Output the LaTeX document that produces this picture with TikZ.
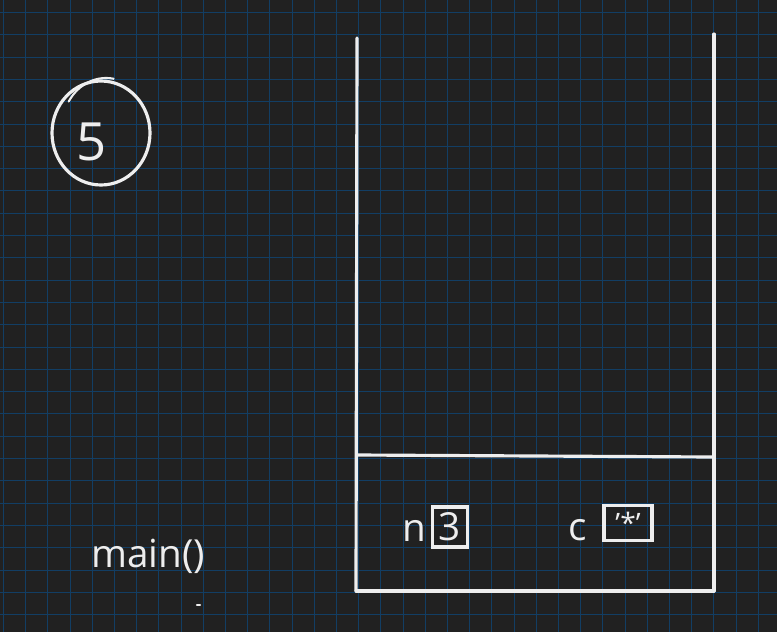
\documentclass[tikz,border=0pt]{standalone}
\usepackage{fontspec}
\setmainfont{Open Sans}
\definecolor{board}{RGB}{33,33,33}
\definecolor{gridblue}{RGB}{18,62,100}
\definecolor{chalk}{RGB}{238,238,238}
\begin{document}
\begin{tikzpicture}[x=0.02cm, y=-0.02cm, font=\fontsize{22}{26}\selectfont]
    % Styles
    \tikzstyle{pen}=[chalk, line width=1.8pt, line cap=round, line join=round]
    \tikzstyle{hand text}=[text=chalk, inner sep=0pt]
    \tikzstyle{value box}=[draw=chalk, line width=1.8pt, inner sep=0pt, text=chalk]

    % --- Background and grid ---
    \fill[board] (0,0) rectangle (777,632);
    \useasboundingbox (0,0) rectangle (777,632);
    \foreach \i in {0,...,34}
        \draw[gridblue, line width=0.02cm] (3.5+22.2*\i,0) -- (3.5+22.2*\i,632);
    \foreach \j in {0,...,27}
        \draw[gridblue, line width=0.02cm] (0,12.5+22.3*\j) -- (777,12.5+22.3*\j);

    % --- Step number ---
    \node[hand text, font=\fontsize{30}{34}\selectfont] (step_no) at (92,142) {5};
    \draw[pen] (101,133) ellipse (49 and 52);
    \draw[pen, line width=1.2pt] (106,128) ++(-148:44 and 50) arc (-148:-80:44 and 50);

    % --- Stack frame outline ---
    \coordinate (stack_tl) at (357,38);
    \coordinate (stack_bl) at (356,591);
    \coordinate (stack_tr) at (714,34);
    \coordinate (stack_br) at (714,591);
    \coordinate (frame_l) at (358,455);
    \coordinate (frame_r) at (712,457);

    \draw[pen] (stack_tl) -- (stack_bl);
    \draw[pen] (stack_tr) -- (stack_br);
    \draw[pen] (stack_bl) -- (stack_br);
    \draw[pen] (frame_l) -- (frame_r);

    % --- Frame of main() ---
    \node[hand text] (main_lbl) at (148,556) {main()};
    \node[hand text] (var_n) at (414,531) {n};
    \node[value box, minimum width=0.7cm, minimum height=0.8cm] (val_n) at (450,527) {3};
    \node[hand text] (var_c) at (578,530) {c};
    \node[value box, minimum width=0.96cm, minimum height=0.7cm,
          font=\fontsize{16}{18}\selectfont] (val_c) at (628,523) {'*'};

    % stray dot
    \draw[pen, line width=1.2pt] (197,605) -- (200,605);
\end{tikzpicture}
\end{document}
